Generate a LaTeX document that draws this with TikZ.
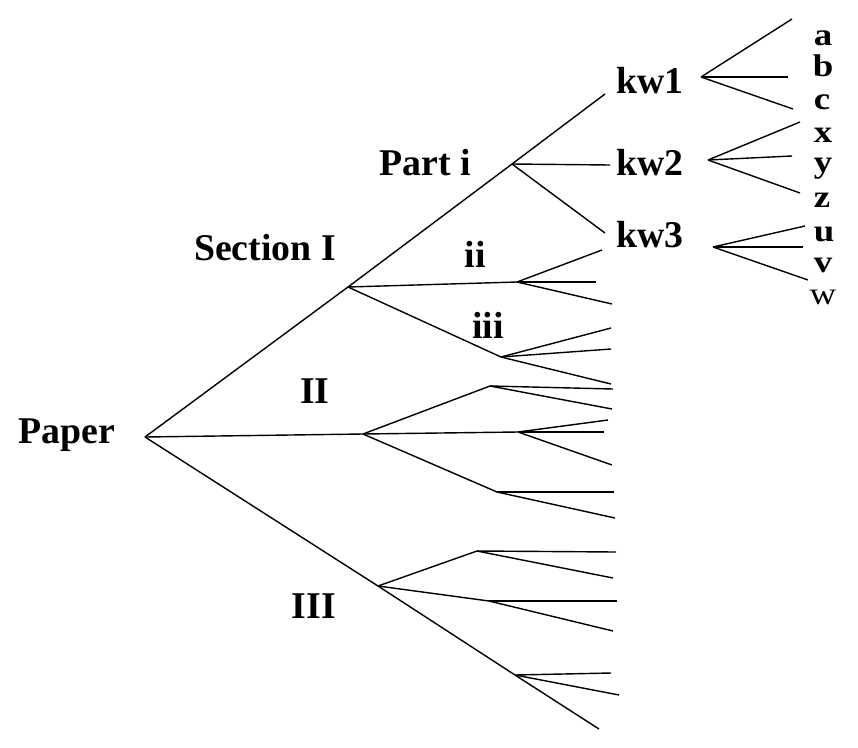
\documentclass[tikz,border=0pt]{standalone}
\usepackage{fontspec}
\setmainfont{Liberation Serif}
\usepackage{graphicx}
\usepackage{tikz}
\usetikzlibrary{positioning}

\newcommand{\lfch}[1]{\scalebox{1}[0.85]{#1}}

\begin{document}
\begin{tikzpicture}[x=0.02cm,y=-0.02cm,line width=0.8pt,
    lbl/.style={font=\bfseries\fontsize{21.5}{24}\selectfont,anchor=base,inner sep=0pt},
    leaf/.style={font=\bfseries\fontsize{21}{22}\selectfont,anchor=base,inner sep=0pt}]
  \useasboundingbox (0,0) rectangle (858,747);
  % labels
  \node[lbl] (paper) at (67,443) {Paper};
  \node[lbl] (sec1) at (265,260) {Section I};
  \node[lbl] (sec2) at (315,403) {II};
  \node[lbl] (sec3) at (314,618) {III};
  \node[lbl] (parti) at (425,175) {Part i};
  \node[lbl] (partii) at (475,267) {ii};
  \node[lbl] (partiii) at (488,338) {iii};
  \node[lbl] (kw1) at (650,93) {kw1};
  \node[lbl] (kw2) at (650,175) {kw2};
  \node[lbl] (kw3) at (650,247) {kw3};
  \node[leaf] (la) at (823,45) {\lfch{a}};
  \node[leaf] (lb) at (823,76) {\lfch{b}};
  \node[leaf] (lc) at (822,109) {\lfch{c}};
  \node[leaf] (lx) at (823,142) {\lfch{x}};
  \node[leaf] (ly) at (823,172) {\lfch{y}};
  \node[leaf] (lz) at (822,207) {\lfch{z}};
  \node[leaf] (lu) at (824,241) {\lfch{u}};
  \node[leaf] (lv) at (823,272) {\lfch{v}};
  \node[leaf,font=\fontsize{21}{22}\selectfont] (lw) at (823,304) {\lfch{w}};

  % junctions
  \coordinate (root) at (145,437);
  \coordinate (s1) at (348,287);
  \coordinate (p1) at (512,164);
  \coordinate (s2) at (517,282);
  \coordinate (s3) at (501,357);
  \coordinate (t2) at (363,434);
  \coordinate (t2a) at (490,386);
  \coordinate (t2b) at (518,432);
  \coordinate (t2c) at (497,492);
  \coordinate (t3) at (378,586);
  \coordinate (t3a) at (477,551);
  \coordinate (t3b) at (489,601);
  \coordinate (t3c) at (515,675);
  \coordinate (e3) at (599,729);
  \coordinate (k1e) at (605,94);
  \coordinate (k2e) at (610,165);
  \coordinate (k3e) at (605,233);
  \coordinate (f1) at (701,77);
  \coordinate (f2) at (708,160);
  \coordinate (f3) at (713,247);

  % main branches
  \draw (root) -- (s1) -- (p1) -- (k1e);
  \draw (root) -- (t2);
  \draw (root) -- (t3) -- (t3c) -- (e3);
  \draw (p1) edge (k2e) edge (k3e);
  \draw (s1) edge (s2) edge (s3);
  \draw (t2) edge (t2a) edge (t2b) edge (t2c);
  \draw (t3) edge (t3a) edge (t3b);

  % twigs
  \draw (s2) edge (602,250) edge (596,282) edge (612,304);
  \draw (s3) edge (611,328) edge (611,349) edge (611,384);
  \draw (t2a) edge (613,389) edge (612,409);
  \draw (t2b) edge (608,420) edge (604,432) edge (612,465);
  \draw (t2c) edge (614,492) edge (615,518);
  \draw (t3a) edge (616,552) edge (613,578);
  \draw (t3b) edge (617,601) edge (613,631);
  \draw (t3c) edge (611,673) edge (619,695);

  % keyword fans
  \draw (f1) edge (792,19) edge (788,77) edge (793,109);
  \draw (f2) edge (800,122) edge (792,156) edge (800,193);
  \draw (f3) edge (805,226) edge (803,247) edge (808,280);
\end{tikzpicture}
\end{document}
